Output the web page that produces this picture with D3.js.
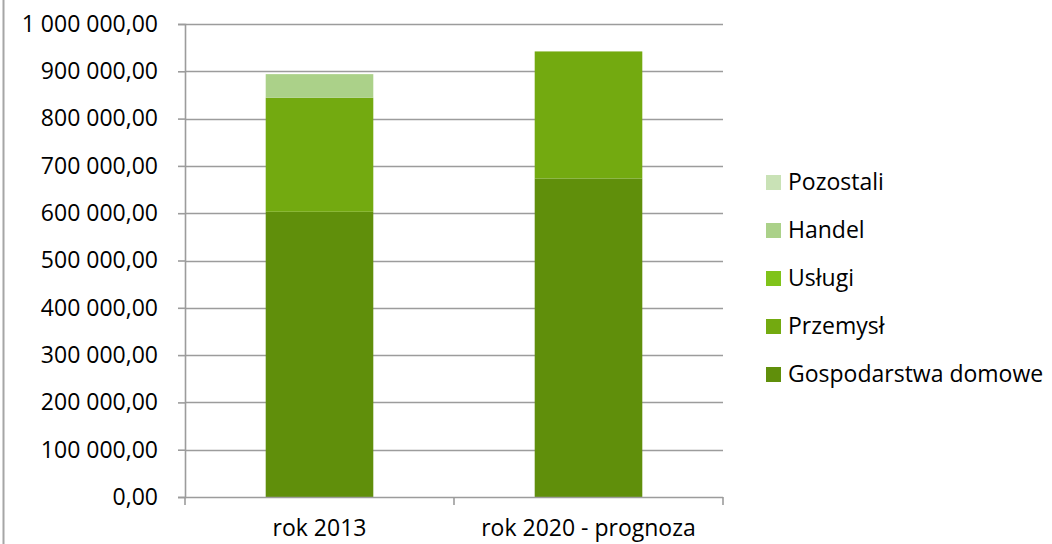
<!DOCTYPE html>
<html>
<head>
<meta charset="utf-8">
<script src="https://cdn.jsdelivr.net/npm/d3@7"></script>
<style>
  html, body { margin: 0; padding: 0; background: #ffffff; }
  svg { display: block; }
  text { font-family: "Open Sans", "Noto Sans", sans-serif; fill: #000; }
</style>
</head>
<body>
<svg id="chart" width="1052" height="544"></svg>
<script>
// Categories (x axis)
const categories = ["rok 2013", "rok 2020 - prognoza"];

// Series, stacked bottom to top
const seriesNames = ["Gospodarstwa domowe", "Przemysł", "Usługi", "Handel", "Pozostali"];
const gospodarstwaDomowe = [603000, 673500];
const przemysl = [241000, 268500];
const uslugi = [0, 0];
const handel = [50000, 0];
const pozostali = [0, 0];

// Y axis ticks
const yTicks = [0, 100000, 200000, 300000, 400000, 500000, 600000, 700000, 800000, 900000, 1000000];

const colors = {
  "Gospodarstwa domowe": "#608f0b",
  "Przemysł": "#73aa10",
  "Usługi": "#80c31a",
  "Handel": "#abd189",
  "Pozostali": "#c9e2b6"
};

const rows = categories.map((c, i) => ({
  category: c,
  "Gospodarstwa domowe": gospodarstwaDomowe[i],
  "Przemysł": przemysl[i],
  "Usługi": uslugi[i],
  "Handel": handel[i],
  "Pozostali": pozostali[i]
}));

const svg = d3.select("#chart");
const plot = { left: 185, right: 723, top: 24, bottom: 497 };

const x = d3.scaleBand().domain(categories).range([plot.left, plot.right]).paddingInner(0.6).paddingOuter(0.3);
const xBand = d3.scaleBand().domain(categories).range([plot.left, plot.right]);
const y = d3.scaleLinear().domain([0, 1000000]).range([plot.bottom, plot.top]);

const locale = d3.formatLocale({ decimal: ",", thousands: " ", grouping: [3], currency: ["", " zł"] });
const fmt = locale.format(",.2f");

// Outer frame edge
svg.append("line").attr("x1", 3.5).attr("x2", 3.5).attr("y1", 0).attr("y2", 544)
  .attr("stroke", "#a6a6a6").attr("stroke-width", 2);

// Horizontal grid lines
svg.append("g").selectAll("line").data(yTicks.slice(1)).join("line")
  .attr("x1", plot.left).attr("x2", plot.right)
  .attr("y1", d => Math.round(y(d)) + 0.5).attr("y2", d => Math.round(y(d)) + 0.5)
  .attr("stroke", "#9c9c9c").attr("stroke-width", 1.6);

// Stacked bars
const stack = d3.stack().keys(seriesNames);
const layers = stack(rows);
svg.append("g").selectAll("g").data(layers).join("g")
  .attr("fill", d => colors[d.key])
  .selectAll("rect").data(d => d).join("rect")
  .attr("x", d => x(d.data.category))
  .attr("width", x.bandwidth())
  .attr("y", d => y(d[1]))
  .attr("height", d => Math.max(0, y(d[0]) - y(d[1])));

// Y axis
const yAxis = svg.append("g").attr("transform", `translate(${plot.left},0)`)
  .call(d3.axisLeft(y).tickValues(yTicks).tickFormat(fmt).tickSize(7).tickPadding(20));
yAxis.select(".domain").attr("stroke", "#9c9c9c").attr("stroke-width", 1.6);
yAxis.selectAll(".tick line").attr("stroke", "#9c9c9c").attr("stroke-width", 1.6);
yAxis.selectAll("text").attr("font-size", "23px").attr("font-family", "\"Open Sans\", sans-serif").attr("fill", "#000");

// X axis with ticks at category boundaries
const xAxis = svg.append("g").attr("transform", `translate(0,${plot.bottom})`);
xAxis.append("line").attr("x1", plot.left).attr("x2", plot.right).attr("y1", 0.5).attr("y2", 0.5)
  .attr("stroke", "#9c9c9c").attr("stroke-width", 1.6);
const boundaries = categories.map(c => xBand(c)).concat([xBand(categories[categories.length - 1]) + xBand.bandwidth()]);
xAxis.selectAll("line.tk").data(boundaries).join("line").attr("class", "tk")
  .attr("x1", d => d).attr("x2", d => d).attr("y1", 0).attr("y2", 8)
  .attr("stroke", "#9c9c9c").attr("stroke-width", 1.6);
xAxis.selectAll("text").data(categories).join("text")
  .attr("x", d => xBand(d) + xBand.bandwidth() / 2)
  .attr("y", 39)
  .attr("text-anchor", "middle")
  .attr("font-size", "23px")
  .text(d => d);

// Legend, top entry is the topmost series
const legend = svg.append("g").attr("transform", "translate(766,175)");
const legendItems = seriesNames.slice().reverse();
const li = legend.selectAll("g").data(legendItems).join("g")
  .attr("transform", (d, i) => `translate(0,${i * 48})`);
li.append("rect").attr("width", 15).attr("height", 15).attr("fill", d => colors[d]);
li.append("text").attr("x", 22).attr("y", 15).attr("font-size", "23px").text(d => d);
</script>
</body>
</html>
